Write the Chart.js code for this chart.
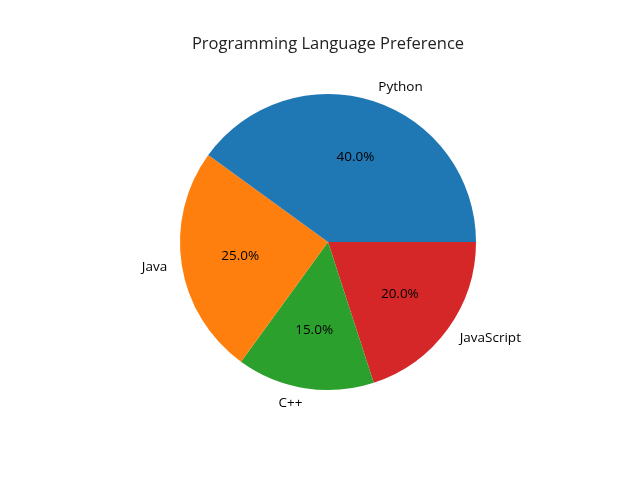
<!DOCTYPE html>
<html>
<head>
<meta charset="utf-8">
<script src="https://cdn.jsdelivr.net/npm/chart.js@4"></script>
<style>
  html, body { margin: 0; padding: 0; background: #fff; }
  #wrap { width: 640px; height: 480px; }
</style>
</head>
<body>
<div id="wrap"><canvas id="pie" width="640" height="480"></canvas></div>
<script>
// dados (ordem do matplotlib, sentido anti-horário a partir das 3 horas)
const languages = ['Python', 'Java', 'C++', 'JavaScript'];
const shares = [40, 25, 15, 20];
const colors = ['#1f77b4', '#ff7f0e', '#2ca02c', '#d62728'];
const titleText = 'Programming Language Preference';

// Chart.js desenha no sentido horário, então invertemos a ordem
const labelsCw = languages.slice().reverse();
const sharesCw = shares.slice().reverse();
const colorsCw = colors.slice().reverse();

const FONT = '"Open Sans", "DejaVu Sans", sans-serif';

// Rótulos externos e percentuais, como no matplotlib (1.1 e 0.6 do raio)
const pieLabels = {
    id: 'pieLabels',
    afterDatasetsDraw(chart) {
        const ctx = chart.ctx;
        const meta = chart.getDatasetMeta(0);
        const total = sharesCw.reduce((a, b) => a + b, 0);
        ctx.save();
        ctx.fillStyle = '#000';
        ctx.textBaseline = 'middle';
        meta.data.forEach((arc, i) => {
            const mid = (arc.startAngle + arc.endAngle) / 2;
            const r = arc.outerRadius;
            const cx = Math.cos(mid), cy = Math.sin(mid);
            ctx.font = '13.5px ' + FONT;
            // rótulo
            ctx.textAlign = cx >= 0 ? 'left' : 'right';
            ctx.fillText(labelsCw[i], arc.x + 1.1 * r * cx, arc.y + 1.1 * r * cy);
            // percentual
            ctx.textAlign = 'center';
            const pct = (sharesCw[i] / total * 100).toFixed(1) + '%';
            ctx.fillText(pct, arc.x + 0.6 * r * cx, arc.y + 0.6 * r * cy);
        });
        // título
        ctx.font = '16.5px ' + FONT;
        ctx.textAlign = 'center';
        ctx.textBaseline = 'middle';
        ctx.fillStyle = '#222';
        ctx.fillText(titleText, 328, 44);
        ctx.restore();
    }
};

new Chart(document.getElementById('pie'), {
    type: 'pie',
    data: {
        labels: labelsCw,
        datasets: [{
            data: sharesCw,
            backgroundColor: colorsCw,
            borderWidth: 0
        }]
    },
    options: {
        responsive: false,
        animation: false,
        rotation: 90,
        layout: { padding: { left: 180, right: 164, top: 94, bottom: 90 } },
        plugins: {
            legend: { display: false },
            title: { display: false },
            tooltip: { enabled: false }
        }
    },
    plugins: [pieLabels]
});
</script>
</body>
</html>
